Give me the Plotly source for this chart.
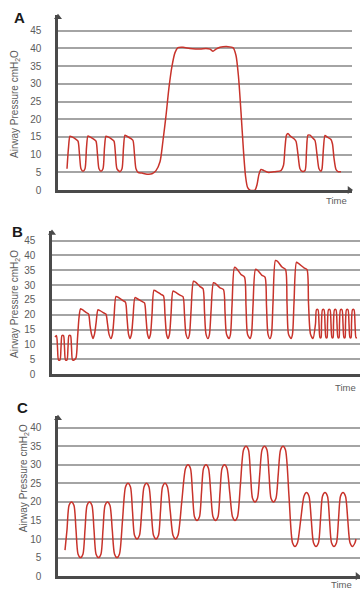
import plotly.graph_objects as go

W, H = 360, 597

# ---------------- data (time in arbitrary units, pressure in cmH2O) ----------------
A_time = [9, 10.5, 12, 14, 18, 20, 21.5, 23, 25,
          27, 28.5, 30, 32, 36, 38, 39.5, 41, 43,
          45, 46.5, 48, 50, 54, 56, 57.5, 59, 62,
          64, 65.5, 67, 69, 73, 75, 76.5, 78, 80,
          84, 89, 94, 98, 102, 105, 108, 111, 114, 117,
          120, 125, 132, 142, 148, 152, 155, 158, 162, 170,
          175, 178, 180.5, 183, 185.5, 187.5, 189.5, 192, 197, 199,
          201, 203, 206, 210, 217, 223, 225.5, 227, 228.5, 230,
          232, 236, 238, 240, 242, 244, 247, 248.5, 250, 252,
          255, 257, 259, 261, 263, 264, 265.5, 267, 269, 273,
          274.5, 276, 278, 280, 283]
A_pressure = [6, 12, 15.2, 15, 14.3, 13.8, 10, 6, 5.3,
              6, 12, 15.3, 15, 14.3, 13.8, 10, 6, 5.3,
              6, 12, 15.2, 15, 14.3, 13.8, 10, 6, 5.2,
              6, 12, 15.5, 15.2, 14.5, 14, 10, 6, 5,
              4.8, 4.5, 4.6, 5.5, 8, 14, 21, 29, 35, 38.8,
              40.2, 40.3, 40, 39.8, 40, 39.8, 39.2, 39.8, 40.3, 40.5,
              40.2, 38, 32, 22, 11, 4, 0.8, 0, 0, 1.5,
              4.5, 5.8, 5.5, 5, 5.2, 5.5, 7, 12, 15.5, 16,
              15.3, 14.5, 13.8, 10, 6, 5.3, 5.5, 11, 15.5, 15.5,
              14.6, 14, 10, 6, 5.3, 6, 12, 15.4, 15, 14.3,
              13, 9, 5.8, 5.2, 5.2]

B_time = [3, 4.5, 5.5, 6.5, 8, 9, 10, 11.5, 12.5, 13.5, 15, 16, 17, 18.5, 19.5, 20.5, 22, 24,
          25.5, 27, 28.5, 30, 34, 36.5, 38, 39.5, 41,
          42.5, 44, 46, 48, 52, 54, 55.5, 57, 59,
          60.5, 62, 64, 66, 71, 73.5, 75, 76.5, 78,
          79.5, 81, 83, 85, 90, 92.5, 94, 95.5, 97,
          98.5, 100, 102, 104, 109, 111.5, 113, 114.5, 116,
          117.5, 119, 121, 123, 128, 131, 132.5, 134, 136,
          137.5, 139, 141.5, 143.5, 148, 151, 152.5, 154, 156,
          157.5, 159, 161.5, 163.5, 168, 171.5, 173, 174.5, 177,
          178.5, 180, 182.5, 184.5, 189, 192.5, 194, 195.5, 198,
          199.5, 201, 203.5, 205.5, 210, 213, 214.5, 216, 218,
          219.5, 221, 223.5, 225.5, 230, 233.5, 235, 236.5, 239,
          240.5, 242, 244.5, 246.5, 252, 255, 256.5, 258.5, 261,
          263.5, 264.5, 266, 267, 268, 269,
          269.5, 270.5, 272, 273, 274, 275,
          275.5, 276.5, 278, 279, 280, 281,
          281.5, 282.5, 284, 285, 286, 287,
          287.5, 288.5, 290, 291, 292, 293,
          293.5, 294.5, 296, 297, 298, 299,
          299.5, 300.5, 302, 303, 304, 305]
B_pressure = [12.5, 13, 9, 4.8, 4.8, 9, 13, 13, 9, 4.8, 4.8, 9, 13, 13, 9, 4.8, 4.8, 5.5,
              12, 19, 22, 21.8, 20.8, 20.3, 16.5, 13.5, 12,
              13.5, 17, 21.7, 21.4, 20.6, 20.2, 17, 13.5, 12,
              13.5, 19, 26.2, 25.9, 24.8, 24.2, 19, 13.5, 12,
              13.5, 19, 25.8, 25.5, 24.5, 24, 19, 13.5, 12,
              13.5, 20, 28.3, 28, 26.9, 26.4, 20, 13.5, 12,
              13.5, 20, 28, 27.7, 26.6, 26.1, 20, 13.5, 12,
              13.5, 21, 31.3, 31, 29.5, 28.8, 21, 13.5, 12,
              13.5, 21, 30.8, 30.5, 29.1, 28.5, 21, 13.5, 12,
              13.5, 23, 36, 35.6, 33.6, 32.7, 23, 13.5, 12,
              13.5, 23, 35.3, 35, 33.3, 32.7, 23, 13.5, 12,
              13.5, 24, 38.3, 38, 36.1, 35.3, 24, 13.5, 12,
              13.5, 24, 37.7, 37.3, 35.8, 35.2, 24, 13.5, 12,
              17, 21.7, 21.7, 17, 12.3, 12.3,
              17, 21.7, 21.7, 17, 12.3, 12.3,
              17, 21.7, 21.7, 17, 12.3, 12.3,
              17, 21.7, 21.7, 17, 12.3, 12.3,
              17, 21.7, 21.7, 17, 12.3, 12.3,
              17, 21.7, 21.7, 17, 12.3, 12.3,
              17, 21.7, 21.7, 17, 12.3, 12.3]

C_time = [7, 9, 11, 13.5, 16, 18, 20, 22.5, 25,
          27, 29, 31.5, 34, 36, 38, 40.5, 43,
          45, 47, 49.5, 52, 54.25, 56.5, 59, 61.5,
          64.5, 67.5, 70, 72.5, 74.5, 76.5, 79, 81.5,
          83.75, 86, 88.5, 91, 93.25, 95.5, 98, 100.5,
          102.5, 104.5, 107, 109.5, 112.25, 115, 117.5, 120,
          123.75, 127.5, 130, 132.5, 134.5, 136.5, 139, 141.5,
          143.5, 145.5, 148, 150.5, 152.75, 155, 157.5, 160,
          162, 164, 166.5, 169, 171.75, 174.5, 177, 179.5,
          182.5, 185.5, 188, 190.5, 192.5, 194.5, 197, 199.5,
          201.75, 204, 206.5, 209, 211, 213, 215.5, 218,
          220.25, 222.5, 225, 227.5, 231, 234.5, 237, 239.5,
          242.75, 246, 248.5, 251, 253.25, 255.5, 258, 260.5,
          262.5, 264.5, 267, 269.5, 271.5, 273.5, 276, 278.5,
          280.5, 282.5, 285, 287.5, 289.75, 292, 294.5, 297,
          298]
C_pressure = [7, 12.5, 19, 20, 19, 12.5, 6, 5, 6,
              12.5, 19, 20, 19, 12.5, 6, 5, 6,
              12.5, 19, 20, 19, 12.5, 6, 5, 6,
              15, 24, 25, 24, 17.5, 11, 10, 11,
              17.5, 24, 25, 24, 17.5, 11, 10, 11,
              17.5, 24, 25, 24, 17.5, 11, 10, 11,
              20, 29, 30, 29, 22.5, 16, 15, 16,
              22.5, 29, 30, 29, 22.5, 16, 15, 16,
              22.5, 29, 30, 29, 22.5, 16, 15, 16,
              25, 34, 35, 34, 27.5, 21, 20, 21,
              27.5, 34, 35, 34, 27.5, 21, 20, 21,
              27.5, 34, 35, 34, 21.5, 9, 8, 9,
              15.25, 21.5, 22.5, 21.5, 15.25, 9, 8, 9,
              15.25, 21.5, 22.5, 21.5, 15.25, 9, 8, 9,
              15.25, 21.5, 22.5, 21.5, 15.25, 9, 8, 9,
              10]

A_ticks = [0, 5, 10, 15, 20, 25, 30, 35, 40, 45]
B_ticks = [0, 5, 10, 15, 20, 25, 30, 35, 40, 45]
C_ticks = [0, 5, 10, 15, 20, 25, 30, 35, 40]

panel_labels = ["A", "B", "C"]
y_title = "Airway Pressure cmH<sub>2</sub>O"
x_title = "Time"

assert len(A_time) == len(A_pressure)
assert len(B_time) == len(B_pressure)
assert len(C_time) == len(C_pressure)

# ---------------- styling / layout (pixel geometry) ----------------
RED = "#c8332b"
GRID = "#a4a4a4"
AXIS = "#4a4a4a"
TXT = "#5c5c5c"
FONT = "Liberation Sans, Arial, sans-serif"

panels = [
    dict(t=A_time, p=A_pressure, ticks=A_ticks, x0=58, x1=352, yb=192, yref=(45, 31), ytop=15,
         label=panel_labels[0], lab_xy=(19, 18), title_xy=(15, 105), time_xy=(336, 203), xarrow=True),
    dict(t=B_time, p=B_pressure, ticks=B_ticks, x0=52, x1=360, yb=378, yref=(45, 243), ytop=233,
         label=panel_labels[1], lab_xy=(17, 234), title_xy=(15, 307), time_xy=(345, 391), xarrow=False),
    dict(t=C_time, p=C_pressure, ticks=C_ticks, x0=58, x1=360, yb=582, yref=(40, 432), ytop=420,
         label=panel_labels[2], lab_xy=(22, 412), title_xy=(24, 483), time_xy=(341, 590), xarrow=True),
]

fig = go.Figure()
annotations = []
layout_axes = {}

for i, pn in enumerate(panels, start=1):
    sfx = "" if i == 1 else str(i)
    xa, ya = "x" + sfx, "y" + sfx
    unit = (pn["yb"] - pn["yref"][1]) / pn["yref"][0]
    ymax = (pn["yb"] - pn["ytop"]) / unit
    xmax = pn["x1"] - pn["x0"]

    fig.add_trace(go.Scatter(
        x=pn["t"], y=pn["p"], mode="lines", xaxis=xa, yaxis=ya,
        line=dict(color=RED, width=1.5, shape="spline", smoothing=0.7),
        hoverinfo="skip", showlegend=False))

    # arrowheads at the axis tips
    fig.add_trace(go.Scatter(
        x=[0], y=[ymax - 2.4 / unit], mode="markers", xaxis=xa, yaxis=ya,
        marker=dict(symbol="triangle-up", size=7, color=AXIS, line=dict(width=0)),
        cliponaxis=False, hoverinfo="skip", showlegend=False))
    if pn["xarrow"]:
        fig.add_trace(go.Scatter(
            x=[xmax - 2.5], y=[0], mode="markers", xaxis=xa, yaxis=ya,
            marker=dict(symbol="triangle-right", size=7, color=AXIS, line=dict(width=0)),
            cliponaxis=False, hoverinfo="skip", showlegend=False))

    layout_axes["xaxis" + sfx] = dict(
        domain=[pn["x0"] / W, pn["x1"] / W], range=[0, xmax], anchor=ya,
        showgrid=False, zeroline=False, showticklabels=False, ticks="",
        showline=True, linecolor=AXIS, linewidth=2.5, fixedrange=True)
    layout_axes["yaxis" + sfx] = dict(
        domain=[1 - pn["yb"] / H, 1 - pn["ytop"] / H], range=[0, ymax], anchor=xa,
        tickvals=pn["ticks"], ticktext=[str(v) for v in pn["ticks"]],
        showgrid=True, gridcolor=GRID, gridwidth=1.5, zeroline=False,
        showline=True, linecolor=AXIS, linewidth=2.5, ticks="",
        ticklabelstandoff=12, tickfont=dict(family=FONT, size=10, color=TXT),
        fixedrange=True)

    annotations.append(dict(x=pn["lab_xy"][0] / W, y=1 - pn["lab_xy"][1] / H, xref="paper", yref="paper",
                            text="<b>%s</b>" % pn["label"], showarrow=False, xanchor="center", yanchor="middle",
                            font=dict(family=FONT, size=15, color="#1a1a1a")))
    annotations.append(dict(x=pn["title_xy"][0] / W, y=1 - pn["title_xy"][1] / H, xref="paper", yref="paper",
                            text=y_title, textangle=-90, showarrow=False, xanchor="center", yanchor="middle",
                            font=dict(family=FONT, size=10, color=TXT)))
    annotations.append(dict(x=pn["time_xy"][0] / W, y=1 - pn["time_xy"][1] / H, xref="paper", yref="paper",
                            text=x_title, showarrow=False, xanchor="center", yanchor="middle",
                            font=dict(family=FONT, size=9.5, color=TXT)))

fig.update_layout(
    width=W, height=H, autosize=False,
    margin=dict(l=0, r=0, t=0, b=0, pad=0),
    paper_bgcolor="white", plot_bgcolor="white",
    annotations=annotations, showlegend=False,
    **layout_axes)

# remove the default 8px page margin so the 360x597 figure fills the window exactly
fig.write_html("out.html", config={"displayModeBar": False},
               post_script="document.body.style.margin='0';document.body.style.overflow='hidden';")
